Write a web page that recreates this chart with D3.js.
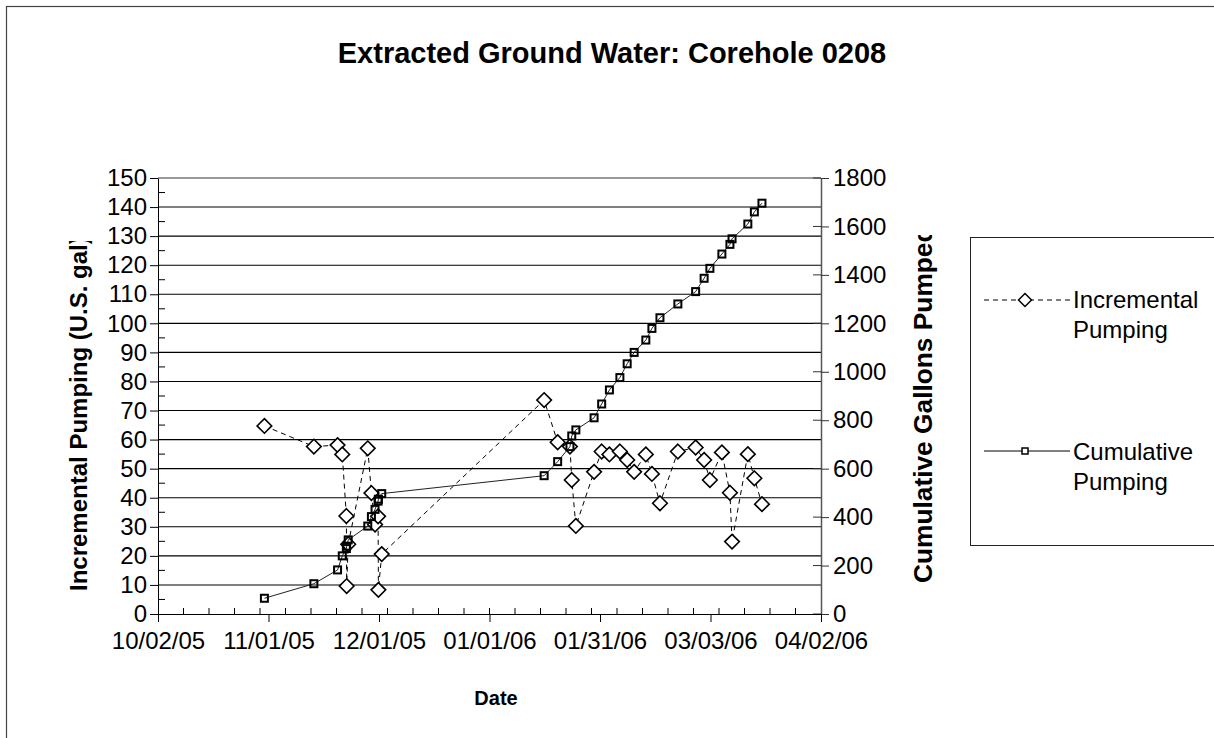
<!DOCTYPE html>
<html><head><meta charset="utf-8">
<script src="https://cdn.jsdelivr.net/npm/d3@7"></script>
<style>
body{margin:0;background:#fff;overflow:hidden;}
svg{display:block;}
text{font-family:"Liberation Sans",Arial,sans-serif;fill:#000;}
</style>
</head><body>
<svg id="chart" width="1214" height="738"></svg>
<script>
// ---- data ----
const dates = [
  "2005-10-31 05:00","2005-11-13 19:00","2005-11-20 07:00","2005-11-21 14:00",
  "2005-11-22 17:00","2005-11-22 19:00","2005-11-23 05:00","2005-11-28 14:00",
  "2005-11-29 14:00","2005-11-30 14:00","2005-12-01 10:00","2005-12-01 12:00",
  "2005-12-02 10:00","2006-01-16 00:00","2006-01-19 17:00","2006-01-23 02:00",
  "2006-01-23 14:00","2006-01-24 17:00","2006-01-29 17:00","2006-01-31 19:00",
  "2006-02-02 22:00","2006-02-05 19:00","2006-02-07 19:00","2006-02-09 17:00",
  "2006-02-12 22:00","2006-02-14 14:00","2006-02-16 19:00","2006-02-21 17:00",
  "2006-02-26 14:00","2006-02-28 22:00","2006-03-02 12:00","2006-03-05 19:00",
  "2006-03-08 00:00","2006-03-08 14:00","2006-03-12 22:00","2006-03-14 17:00",
  "2006-03-16 19:00"
];
const incremental = [
  64.7, 57.6, 58.1, 54.9, 33.7, 9.6, 24.0, 57.0, 41.6, 30.8, 33.6, 8.3, 20.6,
  73.6, 59.1, 57.6, 46.1, 30.3, 48.9, 55.9, 54.9, 55.9, 53.0, 48.9, 54.9, 48.2,
  38.1, 55.9, 57.3, 53.0, 46.1, 55.6, 41.7, 24.9, 55.0, 46.7, 37.8
];
const cumulative = [
  65, 125, 182, 240, 270, 280, 306, 363, 402, 432, 466, 474, 497,
  571, 629, 691, 735, 760, 810, 867, 925, 976, 1033, 1080, 1131, 1179,
  1223, 1280, 1331, 1386, 1427, 1486, 1526, 1549, 1610, 1660, 1696
];
const xDomain = ["2005-10-02 00:00", "2006-04-02 00:00"];
const xTickLabels = ["10/02/05","11/01/05","12/01/05","01/01/06","01/31/06","03/03/06","04/02/06"];
const leftTicks = [0,10,20,30,40,50,60,70,80,90,100,110,120,130,140,150];
const rightTicks = [0,200,400,600,800,1000,1200,1400,1600,1800];
const seriesNames = ["Incremental Pumping", "Cumulative Pumping"];

// ---- layout ----
const P = {l:158, r:821, t:178, b:614};
const svg = d3.select("#chart");
const parse = d3.utcParse("%Y-%m-%d %H:%M");
const dt = dates.map(parse);
const x0 = parse(xDomain[0]), x1 = parse(xDomain[1]);
const x = d3.scaleUtc().domain([x0, x1]).range([P.l, P.r]);
const yL = d3.scaleLinear().domain([0,150]).range([P.b, P.t]);
const yR = d3.scaleLinear().domain([0,1800]).range([P.b, P.t]);
const DAY = 864e5;
const spanDays = (x1 - x0) / DAY;
const majorX = xTickLabels.map((_, i) => new Date(x0.getTime() + i * spanDays / (xTickLabels.length - 1) * DAY));
const minorX = d3.range(7, spanDays, 7).map(d => new Date(x0.getTime() + d * DAY));
const FONT = '"Liberation Sans",Arial,sans-serif';

// outer border
svg.append("rect").attr("x",6.5).attr("y",6.5).attr("width",1212).attr("height",760)
  .attr("fill","none").attr("stroke","#444").attr("stroke-width",1.2);

// title
svg.append("text").attr("x",612).attr("y",63).attr("text-anchor","middle")
  .attr("font-size",29).attr("font-weight","bold").text("Extracted Ground Water: Corehole 0208");

// gridlines
svg.append("g").selectAll("line").data(leftTicks.filter(v => v > 0 && v < 150)).join("line")
  .attr("x1",P.l).attr("x2",P.r).attr("y1",d=>yL(d)).attr("y2",d=>yL(d))
  .attr("stroke","#000").attr("stroke-width",1.1);
svg.append("line").attr("x1",P.l).attr("x2",P.r).attr("y1",P.t).attr("y2",P.t)
  .attr("stroke","#999").attr("stroke-width",2);

// left axis
const gL = svg.append("g").attr("transform",`translate(${P.l},0)`)
  .call(d3.axisLeft(yL).tickValues(leftTicks).tickSize(8).tickSizeOuter(0).tickPadding(3).tickFormat(d=>String(d)));
gL.selectAll("text").attr("font-size",24).style("font-family",FONT);
gL.select(".domain").attr("stroke","#000");
svg.append("g").selectAll("line").data(d3.range(5,150,10)).join("line")
  .attr("x1",P.l).attr("x2",P.l+7).attr("y1",d=>yL(d)).attr("y2",d=>yL(d)).attr("stroke","#000");

// right axis
const gR = svg.append("g").attr("transform",`translate(${P.r},0)`)
  .call(d3.axisRight(yR).tickValues(rightTicks).tickSize(8).tickSizeOuter(0).tickPadding(4).tickFormat(d=>String(d)));
gR.selectAll("text").attr("font-size",24).style("font-family",FONT);
gR.select(".domain").attr("stroke","#555").attr("stroke-width",1.5);
gR.selectAll(".tick line").attr("stroke","#333");
svg.append("g").selectAll("line").data(rightTicks).join("line")
  .attr("x1",P.r-8).attr("x2",P.r).attr("y1",d=>yR(d)).attr("y2",d=>yR(d)).attr("stroke","#333");

// bottom axis
const gB = svg.append("g").attr("transform",`translate(0,${P.b})`)
  .call(d3.axisBottom(x).tickValues(majorX).tickSize(8).tickSizeOuter(0).tickPadding(10)
    .tickFormat((d,i)=>xTickLabels[i]));
gB.selectAll("text").attr("font-size",24).style("font-family",FONT);
gB.select(".domain").attr("stroke","#000");
svg.append("g").selectAll("line").data(minorX).join("line")
  .attr("x1",d=>x(d)).attr("x2",d=>x(d)).attr("y1",P.b).attr("y2",P.b-6).attr("stroke","#000");

// axis titles
svg.append("text").attr("x",496).attr("y",705).attr("text-anchor","middle")
  .attr("font-size",20).attr("font-weight","bold").text("Date");

const defs = svg.append("defs");
defs.append("clipPath").attr("id","clipL").append("rect").attr("x",40).attr("y",241).attr("width",80).attr("height",460);
defs.append("clipPath").attr("id","clipR").append("rect").attr("x",880).attr("y",235).attr("width",80).attr("height",460);
svg.append("g").attr("clip-path","url(#clipL)").append("text")
  .attr("transform","translate(87,591) rotate(-90)").attr("font-size",24).attr("font-weight","bold")
  .text("Incremental Pumping (U.S. gal)");
svg.append("g").attr("clip-path","url(#clipR)").append("text")
  .attr("transform","translate(932,583) rotate(-90)").attr("font-size",26.3).attr("font-weight","bold")
  .text("Cumulative Gallons Pumped");

// series
const idx = d3.range(dates.length);
const diamond = s => `M0,${-s}L${s},0L0,${s}L${-s},0Z`;

svg.append("path").datum(idx)
  .attr("d", d3.line().x(i=>x(dt[i])).y(i=>yL(incremental[i])))
  .attr("fill","none").attr("stroke","#000").attr("stroke-width",1).attr("stroke-dasharray","5,4");
svg.append("g").selectAll("path").data(idx).join("path")
  .attr("transform",i=>`translate(${x(dt[i])},${yL(incremental[i])})`)
  .attr("d", diamond(7.3)).attr("fill","#fff").attr("stroke","#000").attr("stroke-width",1.6);

svg.append("path").datum(idx)
  .attr("d", d3.line().x(i=>x(dt[i])).y(i=>yR(cumulative[i])))
  .attr("fill","none").attr("stroke","#222").attr("stroke-width",1);
svg.append("g").selectAll("rect").data(idx).join("rect")
  .attr("x",i=>x(dt[i])-3.5).attr("y",i=>yR(cumulative[i])-3.5).attr("width",7).attr("height",7)
  .attr("fill","none").attr("stroke","#000").attr("stroke-width",2);

// legend
const lg = svg.append("g");
lg.append("rect").attr("x",970.5).attr("y",237.5).attr("width",260).attr("height",308)
  .attr("fill","#fff").attr("stroke","#222").attr("stroke-width",1);
lg.append("line").attr("x1",984).attr("x2",1070).attr("y1",300).attr("y2",300)
  .attr("stroke","#000").attr("stroke-dasharray","5,4");
lg.append("path").attr("transform","translate(1025,300)").attr("d",diamond(6.5))
  .attr("fill","#fff").attr("stroke","#000").attr("stroke-width",1.5);
lg.append("text").attr("x",1073).attr("y",308).attr("font-size",24).text(seriesNames[0].split(" ")[0]);
lg.append("text").attr("x",1073).attr("y",338).attr("font-size",24).text(seriesNames[0].split(" ")[1]);
lg.append("line").attr("x1",984).attr("x2",1070).attr("y1",451).attr("y2",451).attr("stroke","#000");
lg.append("rect").attr("x",1022).attr("y",448).attr("width",6).attr("height",6)
  .attr("fill","#fff").attr("stroke","#000").attr("stroke-width",1.5);
lg.append("text").attr("x",1073).attr("y",460).attr("font-size",24).text(seriesNames[1].split(" ")[0]);
lg.append("text").attr("x",1073).attr("y",490).attr("font-size",24).text(seriesNames[1].split(" ")[1]);
</script>
</body></html>
